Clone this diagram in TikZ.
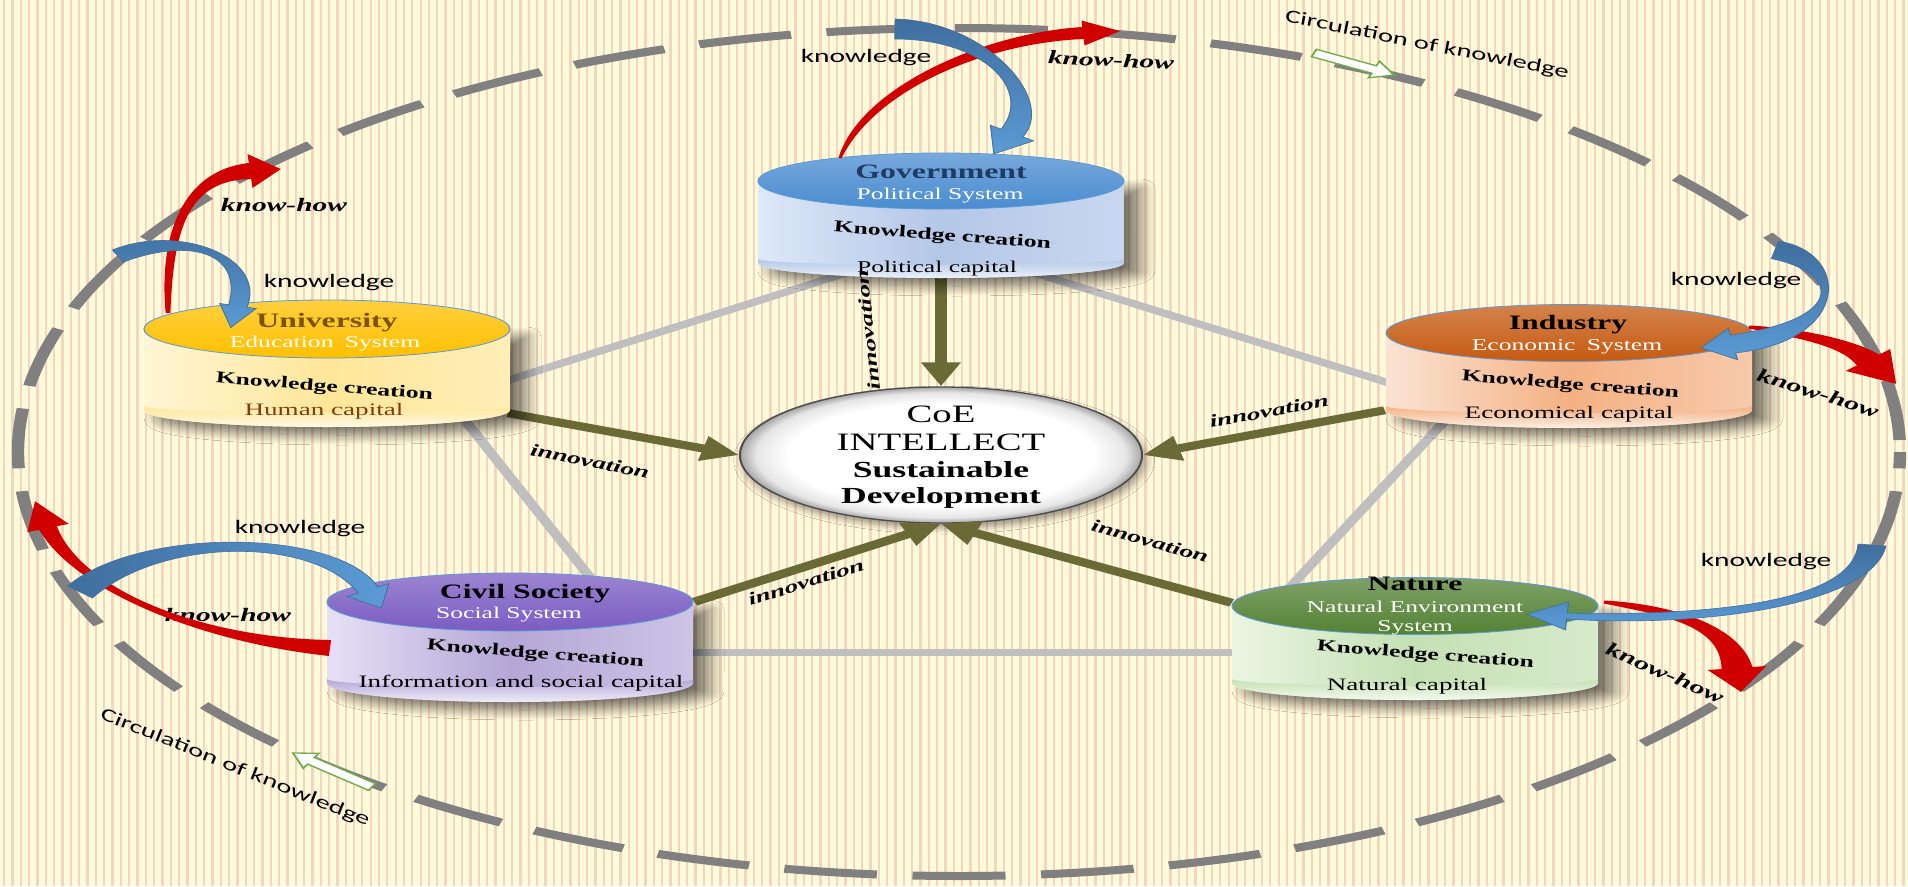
\documentclass[tikz,border=0pt]{standalone}
\usepackage{fontspec}
\setmainfont{Liberation Serif}[FakeStretch=1.55]
\newfontfamily\calfont{Carlito}[FakeStretch=1.55]
\usetikzlibrary{calc,arrows.meta,shadows.blur,shapes.geometric}

\definecolor{bgcream}{HTML}{FFFADA}
\definecolor{stripe}{HTML}{F3D6C0}
\definecolor{dashgray}{HTML}{808080}
\definecolor{pentgray}{HTML}{BFBFBF}
\definecolor{olive}{HTML}{6A6A36}
\definecolor{circgreen}{HTML}{70AD47}
\definecolor{khred}{HTML}{D00000}
\definecolor{kblueD}{HTML}{3F6E9E}
\definecolor{kblueL}{HTML}{5B9BD5}
\definecolor{kblueE}{HTML}{41719C}
\definecolor{topline}{HTML}{5B9BD5}
\definecolor{govT}{HTML}{4A8CD0}
\definecolor{govB}{HTML}{B4C7E7}
\definecolor{govL}{HTML}{DDE8F8}
\definecolor{univT}{HTML}{FFC000}
\definecolor{univB}{HTML}{FFE699}
\definecolor{univL}{HTML}{FFF6D5}
\definecolor{indT}{HTML}{C55A11}
\definecolor{indB}{HTML}{F4B183}
\definecolor{indL}{HTML}{FBE3D3}
\definecolor{civT}{HTML}{7B5CC2}
\definecolor{civB}{HTML}{B4A7D6}
\definecolor{civL}{HTML}{E6E0F6}
\definecolor{natT}{HTML}{548235}
\definecolor{natB}{HTML}{C5E0B4}
\definecolor{natL}{HTML}{EAF5E2}
\definecolor{govtitle}{HTML}{203A64}
\definecolor{univtitle}{HTML}{7A5200}
\definecolor{humancap}{HTML}{843C0C}

\pgfdeclareradialshading{ctrshade}{\pgfpoint{0bp}{0bp}}{color(0bp)=(white); color(19bp)=(white); color(23bp)=(black!10); color(25bp)=(black!35); color(50bp)=(black!35)}

\tikzset{
  circline/.style={draw=dashgray, line width=8pt, dash pattern=on 60pt off 23pt, dash phase=71pt},
  pent/.style={draw=pentgray, line width=7pt},
  innovarrow/.style={draw=olive, line width=8pt, -{Triangle[length=24pt,width=24pt]}},
  centerell/.style={ellipse, minimum width=259.4pt, minimum height=136pt, inner sep=0pt,
    draw=gray!60!black, line width=1.3pt, shading=ctrshade,
    blur shadow={shadow xshift=2pt, shadow yshift=-5pt, shadow blur radius=6pt, shadow opacity=40}},
  ctrtext/.style={anchor=base, inner sep=0pt, font=\fontsize{25}{27}\selectfont},
  ctrbold/.style={anchor=base, inner sep=0pt, font=\bfseries\fontsize{23}{27}\selectfont},
  cyltitle/.style={anchor=base, inner sep=0pt, font=\bfseries\fontsize{20.5}{23}\selectfont},
  cylsub/.style={anchor=base, inner sep=0pt, text=white, font=\fontsize{16.5}{19}\selectfont},
  cylkc/.style={anchor=base, inner sep=0pt, rotate=-4.5, font=\bfseries\fontsize{16.5}{19}\selectfont},
  cylcapital/.style={anchor=base, inner sep=0pt, font=\fontsize{17.5}{20}\selectfont},
  klbl/.style={anchor=base, inner sep=0pt, font=\calfont\fontsize{19}{22}\selectfont},
  khlbl/.style={inner sep=0pt, font=\bfseries\itshape\fontsize{19}{22}\selectfont},
  innlbl/.style={inner sep=0pt, font=\bfseries\itshape\fontsize{17.5}{20}\selectfont},
  circlbl/.style={inner sep=0pt, font=\calfont\fontsize{18.5}{21}\selectfont},
  redarrow/.style={fill=khred},
  bluearrow/.style={top color=kblueD, bottom color=kblueL, draw=kblueE, line width=0.6pt},
  bluearrowh/.style={left color=kblueD, right color=kblueL, draw=kblueE, line width=0.6pt},
  stretched/.style={transform canvas={xscale=1.55}, x=0.6451613pt, y=-1pt},
}

% tapered curved arrow: options, P0, P1, P2, P3, w0, wm, w1, head length, head half width
\newcommand\carrow[1]{\tikzset{castyle/.style={#1}}\carrowi}
\newcommand\carrowi[9]{%
  \coordinate (cP0) at (#1);
  \coordinate (cP1) at (#2);
  \coordinate (cP2) at (#3);
  \coordinate (cP3) at (#4);
  \path[castyle] ($(cP0)!#5!90:(cP1)$) .. controls ($(cP1)!#6!-90:(cP0)$) and ($(cP2)!#6!90:(cP3)$) .. ($(cP3)!#7!-90:(cP2)$)
    -- ($(cP3)!#9!-90:(cP2)$) -- ($(cP3)!-#8!(cP2)$) -- ($(cP3)!#9!90:(cP2)$) -- ($(cP3)!#7!90:(cP2)$)
    .. controls ($(cP2)!#6!-90:(cP3)$) and ($(cP1)!#6!90:(cP0)$) .. ($(cP0)!#5!-90:(cP1)$) -- cycle;
}

% hollow green arrow: name, tail, tip
\newcommand\garrow[3]{%
  \coordinate (#1t) at (#2);
  \coordinate (#1h) at (#3);
  \coordinate (#1n) at ($(#1h)!14pt!(#1t)$);
  \draw[draw=circgreen, fill=white, line width=1.3pt]
    ($(#1t)!4pt!90:(#1h)$) -- ($(#1n)!4pt!-90:(#1t)$) -- ($(#1n)!9pt!-90:(#1t)$) -- (#1h)
    -- ($(#1n)!9pt!90:(#1t)$) -- ($(#1n)!4pt!90:(#1t)$) -- ($(#1t)!4pt!-90:(#1h)$) -- cycle;
}

% cylinder node: name, cx, cy (top), yb (bottom)
\newcommand\cylnode[4]{\node[inner sep=0pt, minimum width=236.1pt, minimum height={(#4-(#3))*1pt}] (#1) at (#2,{(#3+#4)/2}) {};}

% cylinder visuals: colour prefix, cx, cy, yb, ry top, ry bottom
\newcommand\cylvis[6]{%
  \path[blur shadow={shadow xshift=10pt, shadow yshift=-8pt, shadow blur radius=10pt, shadow blur steps=12, shadow opacity=55}]
    (#2-183,#3) -- (#2-183,#4) arc[start angle=180, end angle=360, x radius=118.06pt, y radius=#6]
    -- (#2+183,#3) -- cycle;
  \path[left color=#1L, right color=#1L!50!#1B, middle color=#1B]
    (#2-183,#3) -- (#2-183,#4) arc[start angle=180, end angle=360, x radius=118.06pt, y radius=#6]
    -- (#2+183,#3) -- cycle;
  \path[top color=#1B, bottom color=#1L!60!white]
    (#2-183,#4-4) -- (#2-183,#4) arc[start angle=180, end angle=360, x radius=118.06pt, y radius=#6]
    -- (#2+183,#4-4) arc[start angle=0, end angle=-180, x radius=118.06pt, y radius={0.4*#6}] -- cycle;
  \path[top color=#1T!75!white, bottom color=#1T, draw=topline, line width=0.8pt]
    (#2,#3) ellipse[x radius=118.06pt, y radius=#5];
}

\begin{document}
\begin{tikzpicture}
\path[use as bounding box] (0,0) rectangle (1908pt,-886pt);
\fill[bgcream] (0,0) rectangle (1908pt,-886pt);
\foreach \i in {0,...,229} {\fill[stripe] ({\i*8.33pt+3pt},0) rectangle ++(2.3pt,-886pt);}

% ---------- shapes (drawn unstretched, stretched 1.55 horizontally) ----------
\begin{scope}[stretched]
  \draw[circline] (959,452) ellipse[x radius=607.1pt, y radius=424pt];
  \garrow{ga}{1314,53}{1394,75}
  \garrow{gb}{372,787}{293,753}

  \cylnode{gov}{941}{181}{263}
  \cylnode{univ}{327}{329}{410}
  \cylnode{ind}{1569}{333}{410}
  \cylnode{civ}{510}{602}{683}
  \cylnode{nat}{1415}{606}{683}

  \node[centerell] (center) at (941,455) {};

  \draw[pent] ($(gov.south)+(-80,5)$) -- ($(univ.south east)+(-40,-18)$);
  \draw[pent] ($(gov.south)+(59,-1)$) -- ($(ind.south west)+(33,-18)$);
  \draw[pent] ($(univ.south east)+(-55,-2)$) -- ($(civ.north)+(90,-12)$);
  \draw[pent] ($(ind.south west)+(83,-15)$) -- ($(nat.north west)+(54,-14)$);
  \draw[pent] ($(civ.east)+(-10,10)$) -- ($(nat.west)+(10,8)$);

  \draw[innovarrow] (gov.south) -- (center.north);
  \draw[innovarrow] ($(univ.south east)+(-2,3)$) -- (center.west);
  \draw[innovarrow] ($(ind.south west)+(-1,0)$) -- (center.east);
  \draw[innovarrow] ($(civ.north east)+(1,0)$) -- (center.south);
  \draw[innovarrow] ($(nat.north west)+(0,-3)$) -- (center.south);

  \cylvis{gov}{941}{181}{263}{28pt}{15pt}
  \cylvis{univ}{327}{329}{410}{29pt}{17pt}
  \cylvis{ind}{1569}{333}{410}{28.5pt}{18pt}
  \cylvis{civ}{510}{602}{683}{29pt}{19pt}
  \cylvis{nat}{1415}{606}{683}{28.5pt}{17pt}
\end{scope}

% ---------- texts (stretched fonts) ----------
\begin{scope}[x=1pt, y=-1pt]
  \node[circlbl, rotate=-11.2] (circ1) at (1427,45) {Circulation of knowledge};
  \node[circlbl, rotate=-21.9] (circ2) at (235,768) {Circulation of knowledge};

  \node[ctrtext] (ct1) at (941,422) {CoE};
  \node[ctrtext] (ct2) at (941,450) {INTELLECT};
  \node[ctrbold] (ct3) at (941,477) {Sustainable};
  \node[ctrbold] (ct4) at (941,503) {Development};

  \node[innlbl, rotate=96] (inn1) at (868,330) {innovation};
  \node[innlbl, rotate=-11.2] (inn2) at (590,461) {innovation};
  \node[innlbl, rotate=10.5] (inn3) at (1269,411) {innovation};
  \node[innlbl, rotate=17.5] (inn4) at (806,582) {innovation};
  \node[innlbl, rotate=-15.6] (inn5) at (1150,541) {innovation};

  \node[cyltitle, text=govtitle] (govt1) at (941,178) {Government};
  \node[cylsub] (govt2) at (940,199) {Political System};
  \node[cylkc] (govt3) at (942,240) {Knowledge creation};
  \node[cylcapital, font=\fontsize{16.5}{19}\selectfont] (govt4) at (937,272) {Political capital};

  \node[cyltitle, text=univtitle] (univt1) at (327,327) {University};
  \node[cylsub] (univt2) at (325,347) {Education\hspace{0.3em} System};
  \node[cylkc] (univt3) at (324,391) {Knowledge creation};
  \node[cylcapital, text=humancap] (univt4) at (324,415) {Human capital};

  \node[cyltitle] (indt1) at (1568,329) {Industry};
  \node[cylsub] (indt2) at (1567,350) {Economic\hspace{0.3em} System};
  \node[cylkc] (indt3) at (1570,389) {Knowledge creation};
  \node[cylcapital] (indt4) at (1569,418) {Economical capital};

  \node[cyltitle] (civt1) at (525,598) {Civil Society};
  \node[cylsub] (civt2) at (509,618) {Social System};
  \node[cylkc] (civt3) at (535,658) {Knowledge creation};
  \node[cylcapital] (civt4) at (521,687) {Information and social capital};

  \node[cyltitle] (natt1) at (1415,590) {Nature};
  \node[cylsub] (natt2) at (1415,612) {Natural Environment};
  \node[cylsub] (natt2b) at (1415,631) {System};
  \node[cylkc] (natt3) at (1425,659) {Knowledge creation};
  \node[cylcapital] (natt4) at (1407,690) {Natural capital};

  \node[klbl] (k1) at (866,62) {knowledge};
  \node[klbl] (k2) at (329,287) {knowledge};
  \node[klbl] (k3) at (1736,285) {knowledge};
  \node[klbl] (k4) at (1766,566) {knowledge};
  \node[klbl] (k5) at (300,533) {knowledge};
  \node[khlbl, rotate=-2.6] (h1) at (1111,60) {know-how};
  \node[khlbl] (h2) at (284,205) {know-how};
  \node[khlbl, rotate=-17.5] (h3) at (1818,393) {know-how};
  \node[khlbl, rotate=-23.5] (h4) at (1665,673) {know-how};
  \node[khlbl] (h5) at (228,615) {know-how};
\end{scope}

% ---------- curved knowledge / know-how arrows ----------
\begin{scope}[stretched]
  \carrow{redarrow}{840,158}{868,88}{985,38}{1083,33}{1pt}{5pt}{6pt}{24pt}{12.5pt}
  \carrow{redarrow}{168,313}{166,232}{185,175}{250,171}{1.5pt}{5pt}{8pt}{20pt}{17pt}
  \carrow{redarrow}{1749,327}{1800,333}{1848,343}{1868,360}{1.5pt}{5pt}{9pt}{30pt}{18pt}
  \carrow{redarrow}{1604,602}{1668,610}{1730,625}{1737,668}{1.5pt}{6pt}{10pt}{24pt}{19pt}
  \carrow{redarrow}{330,648}{200,640}{78,590}{48,528}{8pt}{2pt}{6pt}{28pt}{14pt}

  \carrow{bluearrow}{895,29}{985,30}{1045,95}{1012,133}{10pt}{9pt}{8pt}{24pt}{16pt}
  \carrow{bluearrow}{118,256}{185,230}{255,255}{238,306}{7pt}{8pt}{6pt}{22pt}{12pt}
  \carrow{bluearrow}{1775,250}{1845,262}{1850,330}{1733,344}{9pt}{11pt}{9pt}{21pt}{16pt}
  \carrow{bluearrow}{1872,545}{1862,605}{1700,622}{1567,616}{9pt}{6pt}{3pt}{26pt}{14pt}
  \carrow{bluearrowh}{80,592}{150,532}{325,532}{368,590}{10pt}{9pt}{7pt}{20pt}{15pt}
\end{scope}
\end{tikzpicture}
\end{document}
